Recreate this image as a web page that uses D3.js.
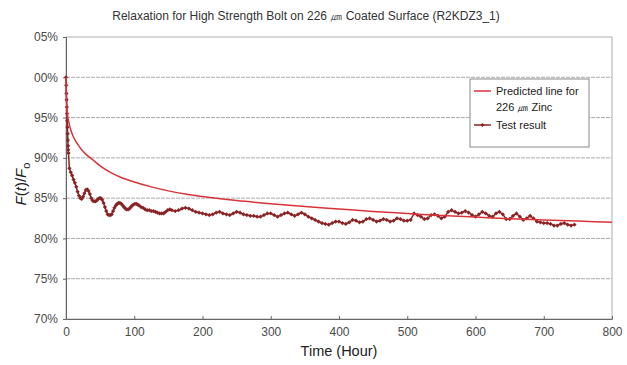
<!DOCTYPE html>
<html>
<head>
<meta charset="utf-8">
<script src="https://cdn.jsdelivr.net/npm/d3@7"></script>
<style>
  body { margin: 0; background: #fff; }
  text { font-family: "Liberation Sans", Arial, sans-serif; }
</style>
</head>
<body>
<div id="chart"></div>
<script>
// y tick labels as printed (left digit cut off in the source figure)
var yTicks = [0.70, 0.75, 0.80, 0.85, 0.90, 0.95, 1.00, 1.05];
var yTickLabels = ["70%", "75%", "80%", "85%", "90%", "95%", "00%", "05%"];
var xTicks = [0, 100, 200, 300, 400, 500, 600, 700, 800];

// predicted relaxation line (hour, F(t)/Fo in %)
var predHours = [0, 0.3, 0.7, 1.2, 2, 3, 5, 8, 12, 17, 23, 30, 40, 50, 65, 80, 100, 125, 150, 175, 200, 250, 300, 350, 400, 450, 500, 550, 600, 650, 700, 750, 800];
var predValues = [100, 98.3, 97.2, 96.3, 95.5, 94.9, 94.1, 93.2, 92.4, 91.7, 91.0, 90.4, 89.7, 89.0, 88.2, 87.6, 87.0, 86.4, 85.9, 85.5, 85.2, 84.7, 84.3, 83.95, 83.65, 83.35, 83.1, 82.85, 82.65, 82.45, 82.3, 82.15, 82.0];

// measured test result (hour, F(t)/Fo in %)
var testHours = [0, 0.3, 0.6, 0.9, 1.2, 1.5, 1.8, 2.1, 2.4, 2.7, 3.0, 3.3, 3.6,
  5, 7, 9, 11, 13, 15, 17, 19, 21, 23, 25, 27, 29, 31, 33, 35, 37, 39, 41, 43, 45, 47, 49,
  51, 53, 55, 57, 59, 61, 63, 65, 67, 69, 71, 73, 75, 77, 79, 81, 83, 85, 87, 89,
  91, 93, 95, 97, 99, 101, 103, 105, 107, 110, 113, 116, 119, 122, 125, 128, 131, 134, 137, 140, 143,
  146, 149, 152, 155, 160, 165, 170, 175, 180, 185, 190, 195, 200, 205, 210, 215, 220, 225, 230, 235,
  240, 245, 250, 255, 260, 265, 270, 275, 280, 285, 290, 295, 300, 305, 310, 315, 320, 325, 330, 335,
  340, 345, 350, 355, 360, 365, 370, 375, 380, 385, 390, 395, 400, 405, 410, 415, 420, 425, 430, 435,
  440, 445, 450, 455, 460, 465, 470, 475, 480, 485, 490, 495, 500, 505, 510, 515, 520, 525, 530, 535,
  540, 545, 550, 555, 560, 565, 570, 575, 580, 585, 590, 595, 600, 605, 610, 615, 620, 625, 630, 635,
  640, 645, 650, 655, 660, 665, 670, 675, 680, 685, 690, 695, 700, 705, 710, 715, 720, 725, 730, 735,
  740, 745];
var testValues = [100, 99.0, 98.0, 97.2, 96.3, 95.5, 94.6, 93.8, 93.0, 92.2, 91.5, 91.0, 90.6,
  88.7, 88.2, 87.8, 87.3, 86.9, 86.4, 85.8, 85.3, 85.0, 84.9, 85.2, 85.6, 86.0, 86.1, 85.9, 85.5, 85.0, 84.7, 84.6, 84.6, 84.7, 84.9, 85.0,
  85.0, 84.8, 84.4, 83.9, 83.4, 83.0, 82.9, 82.9, 83.0, 83.4, 83.8, 84.1, 84.3, 84.4, 84.4, 84.3, 84.1, 83.9, 83.7, 83.6,
  83.6, 83.7, 83.9, 84.1, 84.2, 84.3, 84.3, 84.2, 84.1, 83.9, 83.8, 83.6, 83.5, 83.5, 83.4, 83.4, 83.3, 83.2, 83.1, 83.1, 83.1,
  83.3, 83.5, 83.6, 83.5, 83.4, 83.5, 83.7, 83.8, 83.7, 83.5, 83.3, 83.2, 83.1, 83.0, 82.9, 83.0, 83.2, 83.3, 83.1, 83.0,
  82.9, 83.1, 83.3, 83.2, 83.0, 82.9, 82.8, 82.8, 82.7, 82.7, 82.9, 83.1, 83.1, 82.9, 82.7, 82.9, 83.1, 83.2, 83.0, 82.8,
  83.0, 83.2, 83.0, 82.7, 82.5, 82.3, 82.1, 81.9, 81.8, 81.7, 81.9, 82.1, 82.1, 81.9, 81.8, 82.0, 82.3, 82.2, 82.0, 82.1,
  82.4, 82.5, 82.3, 82.1, 82.2, 82.4, 82.3, 82.1, 82.2, 82.5, 82.4, 82.2, 82.2, 82.3, 83.1, 82.9, 82.7, 82.4, 82.5, 82.9,
  83.0, 82.8, 82.5, 82.7, 83.3, 83.5, 83.3, 83.1, 83.2, 83.4, 83.2, 82.9, 82.7, 83.0, 83.3, 83.1, 82.8, 82.7, 83.1, 83.3,
  83.0, 82.4, 82.4, 82.8, 83.1, 82.7, 82.3, 82.5, 82.8, 82.5, 82.1, 82.0, 81.9, 81.9, 81.8, 81.6, 81.6, 81.8, 81.9, 81.7,
  81.6, 81.7];

var W = 627, H = 365;
var svg = d3.select('#chart').append('svg')
    .attr('width', W)
    .attr('height', H);

var plot = {left: 66, right: 612, top: 37, bottom: 319};

var x = d3.scaleLinear().domain([0, 800]).range([plot.left, plot.right]);
var y = d3.scaleLinear().domain([0.70, 1.05]).range([plot.bottom, plot.top]);

var colors = {
    grid: '#ababab',
    frame: '#b0b0b0',
    tick: '#666',
    pred: '#d8333a',
    test: '#8a2424'
};

// title
svg.append('text')
    .attr('x', 306).attr('y', 20)
    .attr('text-anchor', 'middle')
    .attr('font-size', 12)
    .attr('fill', '#333')
    .text('Relaxation for High Strength Bolt on 226 ㎛ Coated Surface (R2KDZ3_1)');

// grid lines
svg.append('g').selectAll('line')
    .data(yTicks.slice(1, -1))
    .join('line')
    .attr('x1', plot.left).attr('x2', plot.right)
    .attr('y1', d => y(d)).attr('y2', d => y(d))
    .attr('stroke', colors.grid)
    .attr('stroke-width', 1)
    .attr('stroke-dasharray', '4,1');

// frame
svg.append('rect')
    .attr('x', plot.left).attr('y', plot.top)
    .attr('width', plot.right - plot.left)
    .attr('height', plot.bottom - plot.top)
    .attr('fill', 'none')
    .attr('stroke', colors.frame);

// y axis
var yAxis = svg.append('g')
    .attr('transform', 'translate(' + plot.left + ',0)')
    .call(d3.axisLeft(y).tickValues(yTicks)
        .tickFormat((d, i) => yTickLabels[i]).tickSize(3).tickPadding(5));
yAxis.select('.domain').attr('stroke', colors.tick);
yAxis.selectAll('.tick line').attr('stroke', colors.tick);
yAxis.selectAll('text')
    .attr('font-family', '"Liberation Sans", Arial, sans-serif')
    .attr('font-size', 12).attr('fill', '#4a4a4a');

// x axis
var xAxis = svg.append('g')
    .attr('transform', 'translate(0,' + plot.bottom + ')')
    .call(d3.axisBottom(x).tickValues(xTicks).tickSizeInner(-3).tickSizeOuter(0).tickPadding(8));
xAxis.select('.domain').attr('stroke', colors.tick);
xAxis.selectAll('.tick line').attr('stroke', colors.tick);
xAxis.selectAll('text')
    .attr('font-family', '"Liberation Sans", Arial, sans-serif')
    .attr('font-size', 12).attr('fill', '#4a4a4a');

// axis titles
svg.append('text')
    .attr('x', (plot.left + plot.right) / 2).attr('y', 356)
    .attr('text-anchor', 'middle')
    .attr('font-size', 14.5)
    .attr('fill', '#222')
    .text('Time (Hour)');

var yl = svg.append('text')
    .attr('transform', 'translate(26,' + ((plot.top + plot.bottom) / 2 + 6) + ') rotate(-90)')
    .attr('text-anchor', 'middle')
    .attr('font-size', 15)
    .attr('fill', '#222');
yl.append('tspan').attr('font-style', 'italic').text('F');
yl.append('tspan').text('(');
yl.append('tspan').attr('font-style', 'italic').text('t');
yl.append('tspan').text(')/');
yl.append('tspan').attr('font-style', 'italic').text('F');
yl.append('tspan').attr('font-size', 11).attr('dy', 4).text('o');

// series
var predData = predHours.map((h, i) => ({h: h, v: predValues[i] / 100}));
var testData = testHours.map((h, i) => ({h: h, v: testValues[i] / 100}));

var line = d3.line()
    .x(d => x(d.h))
    .y(d => y(d.v));

svg.append('path')
    .attr('d', line(testData))
    .attr('fill', 'none')
    .attr('stroke', colors.test)
    .attr('stroke-width', 1.5);

svg.append('g').selectAll('rect')
    .data(testData)
    .join('rect')
    .attr('x', d => x(d.h) - 1.5)
    .attr('y', d => y(d.v) - 1.5)
    .attr('width', 3).attr('height', 3)
    .attr('transform', d => 'rotate(45,' + x(d.h) + ',' + y(d.v) + ')')
    .attr('fill', colors.test);

svg.append('path')
    .attr('d', d3.line().curve(d3.curveMonotoneX).x(d => x(d.h)).y(d => y(d.v))(predData))
    .attr('fill', 'none')
    .attr('stroke', colors.pred)
    .attr('stroke-width', 1.5);

// legend
var lg = svg.append('g');
lg.append('rect')
    .attr('x', 470).attr('y', 79)
    .attr('width', 119).attr('height', 68)
    .attr('fill', '#fff')
    .attr('stroke', '#888');
lg.append('line')
    .attr('x1', 474).attr('x2', 491).attr('y1', 91).attr('y2', 91)
    .attr('stroke', colors.pred).attr('stroke-width', 1.5);
lg.append('text').attr('x', 496).attr('y', 95)
    .attr('font-size', 11).attr('fill', '#222')
    .text('Predicted line for');
lg.append('text').attr('x', 496).attr('y', 111)
    .attr('font-size', 11).attr('fill', '#222')
    .text('226 ㎛ Zinc');
lg.append('line')
    .attr('x1', 474).attr('x2', 491).attr('y1', 125).attr('y2', 125)
    .attr('stroke', colors.test).attr('stroke-width', 1.5);
lg.append('rect')
    .attr('x', 481).attr('y', 123.5).attr('width', 3).attr('height', 3)
    .attr('transform', 'rotate(45,482.5,125)')
    .attr('fill', colors.test);
lg.append('text').attr('x', 496).attr('y', 129)
    .attr('font-size', 11).attr('fill', '#222')
    .text('Test result');
</script>
</body>
</html>
